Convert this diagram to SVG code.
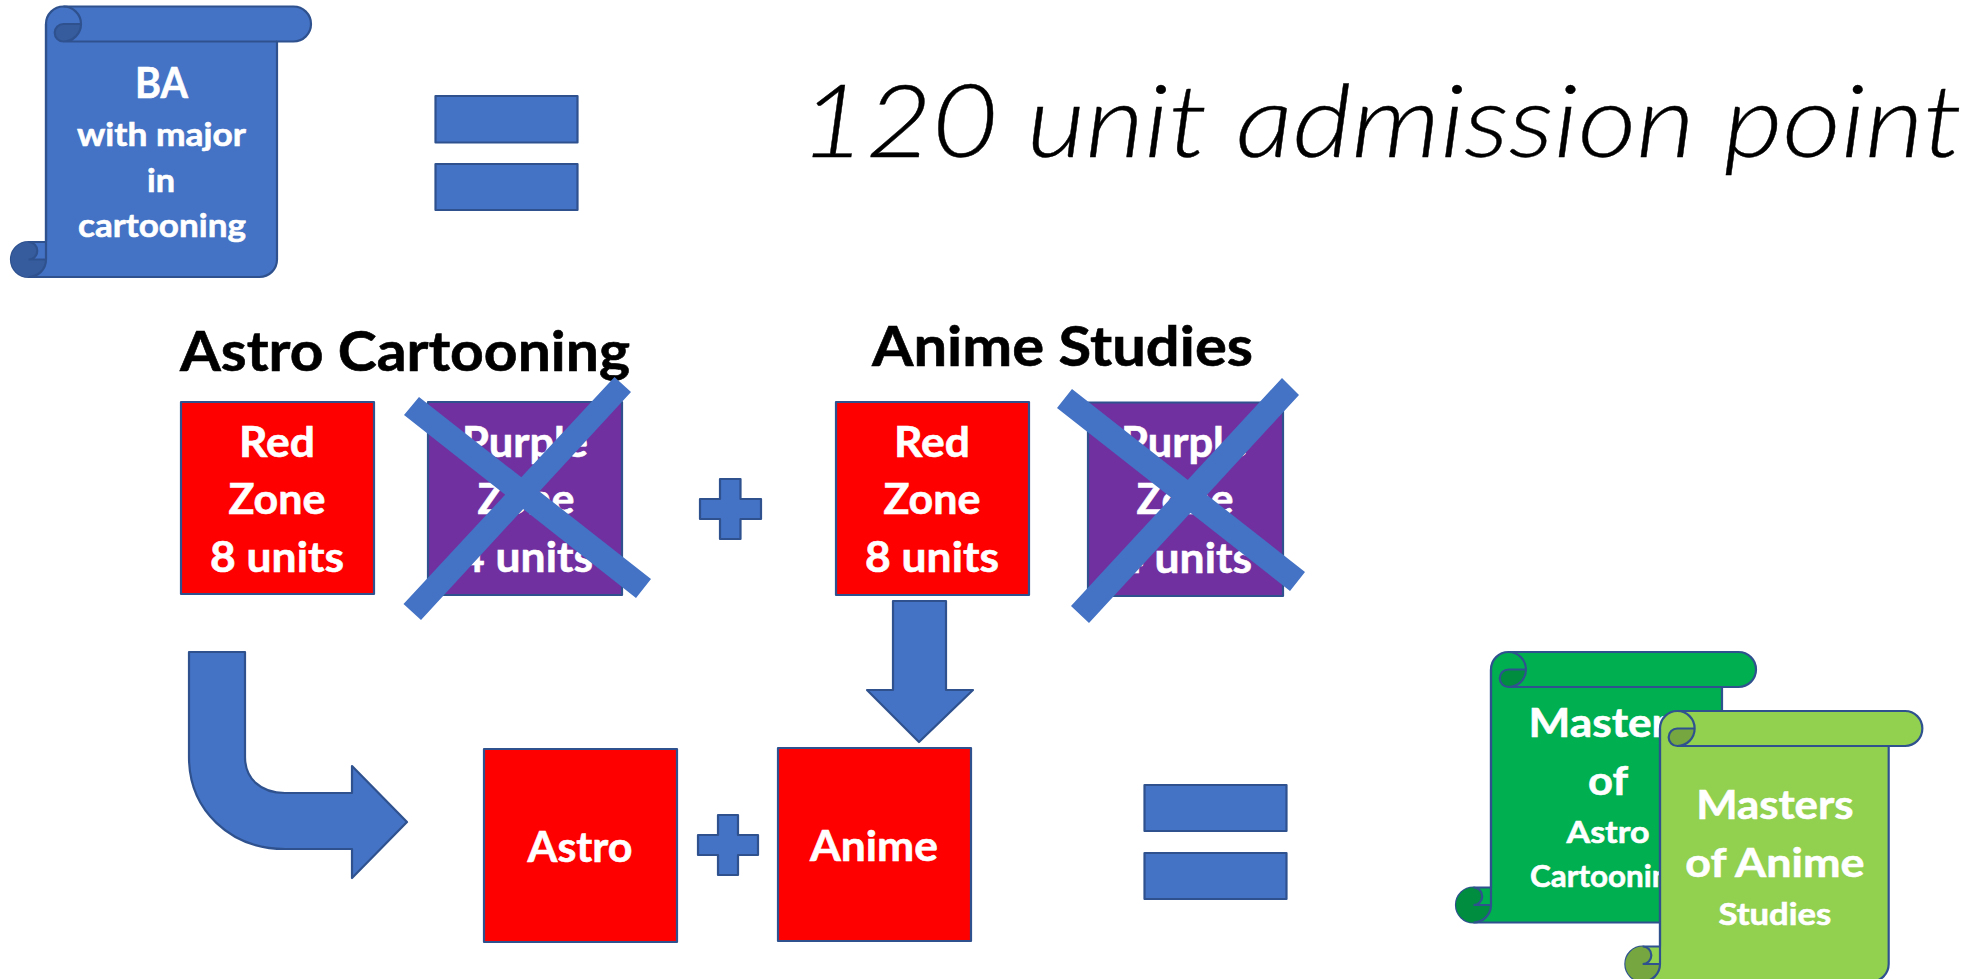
<svg xmlns="http://www.w3.org/2000/svg" width="1975" height="979" viewBox="0 0 1975 979">
<style>
.sh{stroke:#2F528F;stroke-width:2.2;stroke-linejoin:round}
.blue{fill:#4472C4}
.red{fill:#FF0000}
.pur{fill:#7030A0}
.x{fill:#4472C4}
text{font-family:"Lato","Liberation Sans",sans-serif;font-weight:700;text-anchor:middle;fill:#fff;stroke:#fff;stroke-width:.6}
.k{fill:#000;stroke:#000}
.t{font-weight:300;font-style:italic;fill:#000;stroke:#000;stroke-width:.4;font-size:101px;text-anchor:start}
.s42{font-size:42px}.s33{font-size:33px}.s41{font-size:41px}.s31{font-size:31px}
</style>
<defs>
<path id="sb" d="M-17.5,235.5H0V17.5A17.5,17.5 0 0 1 17.5,0H247.5A17.5,17.5 0 0 1 247.5,35H231V253A17.5,17.5 0 0 1 213.5,270.5H-17.5A17.5,17.5 0 0 1 -17.5,235.5Z"/>
<path id="sd" d="M35,17.5H17.5A8.75,8.75 0 0 0 17.5,35A17.5,17.5 0 0 0 35,17.5ZM-17.5,235.5A8.75,8.75 0 0 1 -17.5,253H0A17.5,17.5 0 0 1 -17.5,270.5A17.5,17.5 0 0 1 -17.5,235.5Z"/>
<path id="sl" fill="none" d="M17.5,0A17.5,17.5 0 0 1 17.5,35H231M0,17.5V253M0,253H-17.5M0,253A17.5,17.5 0 0 1 -17.5,270.5M35,17.5H17.5A8.75,8.75 0 0 0 17.5,35M-17.5,235.5A8.75,8.75 0 0 1 -17.5,253"/>
</defs>

<g id="connectors">
<path id="arrow-bent" class="sh blue" d="M189,652H245V757C245,778 260,793 285,793H352V766L407,822L352,878V849H285C230,849 189,810 189,757Z"/>
<path id="arrow-down" class="sh blue" d="M893,601H946V690H973L919,742L867,690H893Z"/>
</g>

<g id="ba-scroll" transform="translate(46,6.5)">
<use href="#sb" class="sh blue"/><use href="#sd" fill="#365C9E"/><use href="#sl" class="sh"/>
<text x="115.500" y="91.5" class="s42" textLength="53" lengthAdjust="spacingAndGlyphs">BA</text>
<text x="115.500" y="139.5" class="s33" textLength="169" lengthAdjust="spacingAndGlyphs">with major</text>
<text x="115" y="185.5" class="s33" textLength="28" lengthAdjust="spacingAndGlyphs">in</text>
<text x="116" y="230.5" class="s33" textLength="168" lengthAdjust="spacingAndGlyphs">cartooning</text>
</g>
<g id="eq1"><rect class="sh blue" x="435.500" y="96" width="142" height="46.5"/><rect class="sh blue" x="435.500" y="164" width="142" height="46"/></g>
<text id="title" class="t" x="800" y="157" textLength="1162" lengthAdjust="spacingAndGlyphs">120 unit admission point</text>

<text id="astro-title" class="k" x="405" y="371" font-size="55" textLength="450" lengthAdjust="spacingAndGlyphs">Astro Cartooning</text>
<text id="anime-title" class="k" x="1062.500" y="366" font-size="55" textLength="381" lengthAdjust="spacingAndGlyphs">Anime Studies</text>

<g id="red1"><rect class="sh red" x="181" y="402" width="193" height="192"/>
<text x="277" y="457" class="s42" textLength="76" lengthAdjust="spacingAndGlyphs">Red</text><text x="277" y="514" class="s42" textLength="97" lengthAdjust="spacingAndGlyphs">Zone</text><text x="277" y="572" class="s42" textLength="134" lengthAdjust="spacingAndGlyphs">8 units</text></g>
<g id="purple1"><rect class="sh pur" x="428" y="402" width="194" height="193"/>
<text x="525" y="457" class="s42" textLength="126" lengthAdjust="spacingAndGlyphs">Purple</text><text x="526" y="514" class="s42" textLength="97" lengthAdjust="spacingAndGlyphs">Zone</text><text x="526" y="572" class="s42" textLength="134" lengthAdjust="spacingAndGlyphs">4 units</text></g>
<path id="x1" class="x" d="M404,415L419,397L651,579L636,598ZM614.500,377L631,392L421,620L403.500,604Z"/>

<path id="plus1" class="sh blue" d="M720,479H740.500V499H761V519H740.500V539H720V519H700V499H720Z"/>

<g id="red2"><rect class="sh red" x="836" y="402" width="193" height="193"/>
<text x="932" y="457" class="s42" textLength="76" lengthAdjust="spacingAndGlyphs">Red</text><text x="932" y="514" class="s42" textLength="97" lengthAdjust="spacingAndGlyphs">Zone</text><text x="932" y="572" class="s42" textLength="134" lengthAdjust="spacingAndGlyphs">8 units</text></g>
<g id="purple2"><rect class="sh pur" x="1088" y="402.500" width="195" height="193.500"/>
<text x="1184" y="457" class="s42" textLength="126" lengthAdjust="spacingAndGlyphs">Purple</text><text x="1185" y="514" class="s42" textLength="97" lengthAdjust="spacingAndGlyphs">Zone</text><text x="1185" y="573" class="s42" textLength="134" lengthAdjust="spacingAndGlyphs">4 units</text></g>
<path id="x2" class="x" d="M1057,408L1072,389L1305,572L1290,591ZM1282,378L1299,395L1089,623L1071,606Z"/>

<g id="astro"><rect class="sh red" x="484" y="749" width="193" height="193"/><text x="580" y="862" class="s42" textLength="105" lengthAdjust="spacingAndGlyphs">Astro</text></g>
<path id="plus2" class="sh blue" d="M718,815H738V835H758V855H738V875H718V855H698V835H718Z"/>
<g id="anime"><rect class="sh red" x="778" y="748" width="193" height="193"/><text x="874" y="861" class="s42" textLength="128" lengthAdjust="spacingAndGlyphs">Anime</text></g>
<g id="eq2"><rect class="sh blue" x="1144.500" y="785" width="142" height="46"/><rect class="sh blue" x="1144.500" y="853" width="142" height="46"/></g>

<g id="masters-astro" transform="translate(1491,652)">
<use href="#sb" class="sh" fill="#00B050"/><use href="#sd" fill="#008D40"/><use href="#sl" class="sh"/>
<text x="117" y="85" class="s41" textLength="159" lengthAdjust="spacingAndGlyphs">Masters</text><text x="117" y="143" class="s41" textLength="40" lengthAdjust="spacingAndGlyphs">of</text>
<text x="117" y="191" class="s31" textLength="83" lengthAdjust="spacingAndGlyphs">Astro</text><text x="117" y="235" class="s31" textLength="156" lengthAdjust="spacingAndGlyphs">Cartooning</text>
</g>
<g id="masters-anime" transform="translate(1660,711) scale(.99,1)">
<use href="#sb" class="sh" fill="#92D050"/><use href="#sd" fill="#75A640"/><use href="#sl" class="sh"/>
<text x="116" y="108" class="s41" textLength="159" lengthAdjust="spacingAndGlyphs">Masters</text><text x="116" y="166" class="s41" textLength="181" lengthAdjust="spacingAndGlyphs">of Anime</text>
<text x="116" y="214" class="s31" textLength="114" lengthAdjust="spacingAndGlyphs">Studies</text>
</g>
</svg>
